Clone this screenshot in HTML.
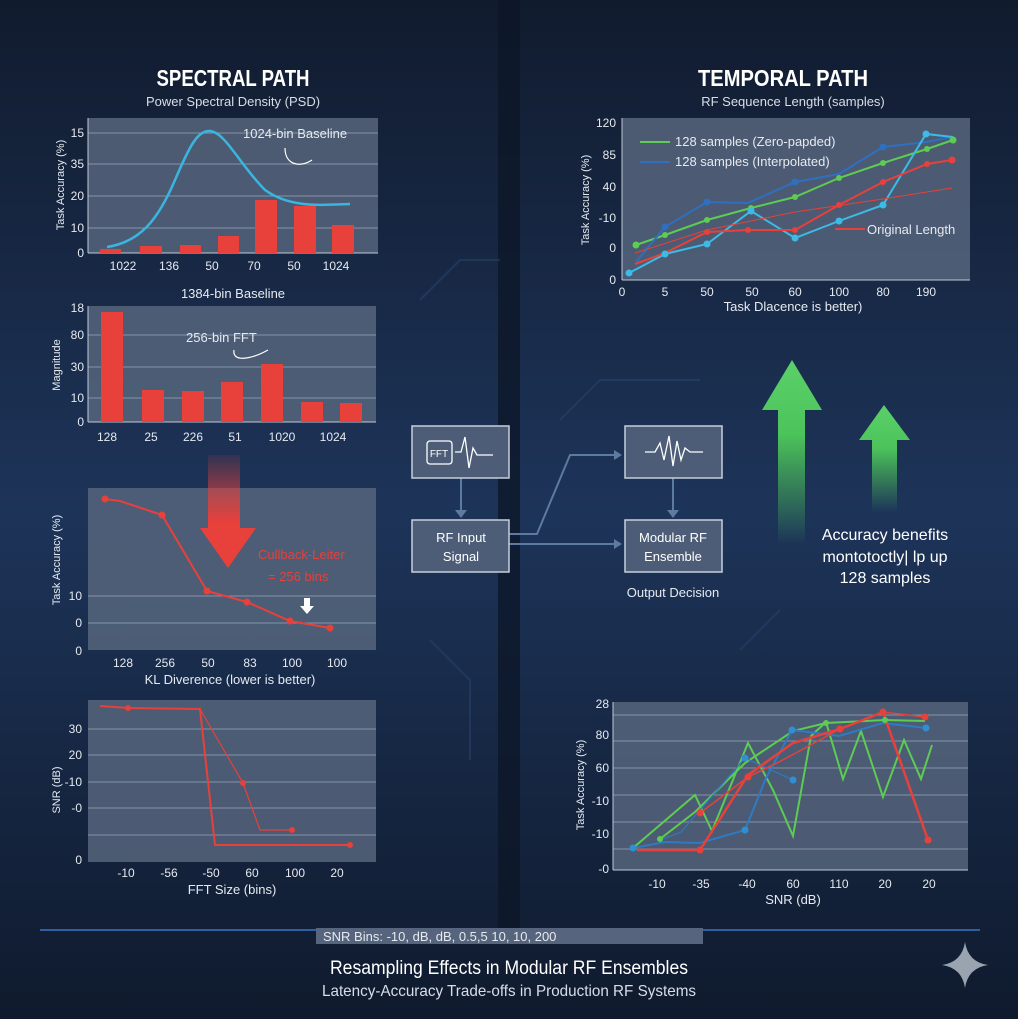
<!DOCTYPE html>
<html><head><meta charset="utf-8"><style>
html,body{margin:0;padding:0;background:#14213a;}
svg{display:block;font-family:"Liberation Sans",sans-serif;}
</style></head><body>
<svg width="1018" height="1019" viewBox="0 0 1018 1019" xmlns="http://www.w3.org/2000/svg">
<defs>
<linearGradient id="bg" x1="0" y1="0" x2="0" y2="1">
<stop offset="0" stop-color="#111b2e"/><stop offset="0.5" stop-color="#1d3459"/><stop offset="1" stop-color="#0f1a2d"/>
</linearGradient>
<linearGradient id="redA" x1="0" y1="0" x2="0" y2="1"><stop offset="0" stop-color="#e8403a" stop-opacity="0.1"/><stop offset="0.6" stop-color="#e8403a"/><stop offset="1" stop-color="#e8403a"/></linearGradient>
<linearGradient id="grA" x1="0" y1="1" x2="0" y2="0"><stop offset="0" stop-color="#4cc45a" stop-opacity="0"/><stop offset="0.6" stop-color="#4cc45a"/><stop offset="1" stop-color="#5bd06a"/></linearGradient>
</defs>
<rect width="1018" height="1019" fill="url(#bg)"/>
<rect x="498" y="0" width="22" height="930" fill="#0d1728" opacity="0.8"/>
<g stroke="#2a4670" stroke-width="2" fill="none" opacity="0.5">
<path d="M560 420 L600 380 L700 380"/><path d="M420 300 L460 260 L500 260"/><path d="M740 650 L780 610"/><path d="M430 640 L470 680 L470 760"/>
</g>
<text x="233" y="86" text-anchor="middle" fill="#fff" font-size="23" font-weight="bold" textLength="153" lengthAdjust="spacingAndGlyphs">SPECTRAL PATH</text>
<text x="783" y="86" text-anchor="middle" fill="#fff" font-size="23" font-weight="bold" textLength="170" lengthAdjust="spacingAndGlyphs">TEMPORAL PATH</text>

<!-- Chart 1 -->
<text x="233" y="106" text-anchor="middle" fill="#d8dee8" font-size="13">Power Spectral Density (PSD)</text>
<rect x="88" y="118" width="290" height="135" fill="#56657d" opacity="0.85"/>
<g stroke="#8593a8" stroke-width="1"><line x1="88" y1="133" x2="378" y2="133"/><line x1="88" y1="164" x2="378" y2="164"/><line x1="88" y1="196" x2="378" y2="196"/><line x1="88" y1="228" x2="378" y2="228"/></g>
<line x1="88" y1="118" x2="88" y2="253" stroke="#c0c8d4"/><line x1="88" y1="253" x2="378" y2="253" stroke="#c0c8d4"/>
<g fill="#e8403a"><rect x="100" y="249" width="21" height="4"/><rect x="140" y="246" width="22" height="7"/><rect x="180" y="245" width="21" height="8"/><rect x="218" y="236" width="21" height="17"/><rect x="255" y="200" width="22" height="53"/><rect x="294" y="206" width="22" height="47"/><rect x="332" y="225" width="22" height="28"/></g>
<path d="M107 247 C140 242 158 220 175 180 C190 145 198 130 210 131 C225 132 240 165 265 190 C290 208 320 205 350 204" stroke="#39b6e0" stroke-width="2.5" fill="none"/>
<text x="243" y="138" fill="#e6eaf0" font-size="13">1024-bin Baseline</text>
<path d="M285 148 C285 165 300 168 312 160" stroke="#fff" fill="none" stroke-width="1.2"/>
<g fill="#e6eaf0" font-size="12" text-anchor="end"><text x="84" y="137">15</text><text x="84" y="168">35</text><text x="84" y="200">20</text><text x="84" y="232">10</text><text x="84" y="257">0</text></g>
<text transform="translate(64,185) rotate(-90)" text-anchor="middle" fill="#e6eaf0" font-size="11">Task Accuracy (%)</text>
<g fill="#e6eaf0" font-size="12" text-anchor="middle"><text x="123" y="270">1022</text><text x="169" y="270">136</text><text x="212" y="270">50</text><text x="254" y="270">70</text><text x="294" y="270">50</text><text x="336" y="270">1024</text></g>

<!-- Chart 2 -->
<text x="233" y="298" text-anchor="middle" fill="#e6eaf0" font-size="13">1384-bin Baseline</text>
<rect x="88" y="306" width="288" height="116" fill="#56657d" opacity="0.85"/>
<g stroke="#8593a8"><line x1="88" y1="335" x2="376" y2="335"/><line x1="88" y1="367" x2="376" y2="367"/><line x1="88" y1="398" x2="376" y2="398"/></g>
<line x1="88" y1="306" x2="88" y2="422" stroke="#c0c8d4"/><line x1="88" y1="422" x2="376" y2="422" stroke="#c0c8d4"/>
<g fill="#e8403a"><rect x="101" y="312" width="22" height="110"/><rect x="142" y="390" width="22" height="32"/><rect x="182" y="391" width="22" height="31"/><rect x="221" y="382" width="22" height="40"/><rect x="261" y="364" width="22" height="58"/><rect x="301" y="402" width="22" height="20"/><rect x="340" y="403" width="22" height="19"/></g>
<text x="186" y="342" fill="#e6eaf0" font-size="13">256-bin FFT</text>
<path d="M234 350 C232 362 250 360 268 350" stroke="#fff" fill="none" stroke-width="1.2"/>
<g fill="#e6eaf0" font-size="12" text-anchor="end"><text x="84" y="312">18</text><text x="84" y="339">80</text><text x="84" y="371">30</text><text x="84" y="402">10</text><text x="84" y="426">0</text></g>
<text transform="translate(60,365) rotate(-90)" text-anchor="middle" fill="#e6eaf0" font-size="11">Magnitude</text>
<g fill="#e6eaf0" font-size="12" text-anchor="middle"><text x="107" y="441">128</text><text x="151" y="441">25</text><text x="193" y="441">226</text><text x="235" y="441">51</text><text x="282" y="441">1020</text><text x="333" y="441">1024</text></g>

<!-- Chart 3 -->
<rect x="88" y="488" width="288" height="162" fill="#56657d" opacity="0.85"/>
<g stroke="#8593a8"><line x1="88" y1="596" x2="376" y2="596"/><line x1="88" y1="623" x2="376" y2="623"/></g>
<path d="M208 455 L208 528 L200 528 L228 568 L256 528 L240 528 L240 455 Z" fill="url(#redA)"/>
<polyline points="105,499 120,501 162,515 207,591 247,602 290,621 330,628" stroke="#e8403a" stroke-width="2" fill="none"/>
<g fill="#e8403a"><circle cx="105" cy="499" r="3.5"/><circle cx="162" cy="515" r="3.5"/><circle cx="207" cy="591" r="3.5"/><circle cx="247" cy="602" r="3.5"/><circle cx="290" cy="621" r="3.5"/><circle cx="330" cy="628" r="3.5"/></g>
<text x="258" y="559" fill="#e8403a" font-size="13">Cullback-Leiter</text>
<text x="268" y="581" fill="#e8403a" font-size="13">= 256 bins</text>
<path d="M304 598 L304 606 L300 606 L307 614 L314 606 L310 606 L310 598Z" fill="#fff"/>
<g fill="#e6eaf0" font-size="12" text-anchor="end"><text x="82" y="600">10</text><text x="82" y="627">0</text><text x="82" y="655">0</text></g>
<text transform="translate(60,560) rotate(-90)" text-anchor="middle" fill="#e6eaf0" font-size="11">Task Accuracy (%)</text>
<g fill="#e6eaf0" font-size="12" text-anchor="middle"><text x="123" y="667">128</text><text x="165" y="667">256</text><text x="208" y="667">50</text><text x="250" y="667">83</text><text x="292" y="667">100</text><text x="337" y="667">100</text></g>
<text x="230" y="684" text-anchor="middle" fill="#e6eaf0" font-size="13">KL Diverence (lower is better)</text>

<!-- Chart 4 -->
<rect x="88" y="700" width="288" height="162" fill="#56657d" opacity="0.85"/>
<g stroke="#8593a8"><line x1="88" y1="729" x2="376" y2="729"/><line x1="88" y1="755" x2="376" y2="755"/><line x1="88" y1="782" x2="376" y2="782"/><line x1="88" y1="808" x2="376" y2="808"/><line x1="88" y1="835" x2="376" y2="835"/></g>
<polyline points="100,706 128,708 200,709 215,845 350,845" stroke="#e8403a" stroke-width="2" fill="none"/>
<polyline points="200,709 243,783 260,830 292,830" stroke="#e8403a" stroke-width="1.2" fill="none"/>
<g fill="#e8403a"><circle cx="128" cy="708" r="3"/><circle cx="243" cy="783" r="3"/><circle cx="292" cy="830" r="3"/><circle cx="350" cy="845" r="3"/></g>
<g fill="#e6eaf0" font-size="12" text-anchor="end"><text x="82" y="733">30</text><text x="82" y="759">20</text><text x="82" y="786">-10</text><text x="82" y="812">-0</text><text x="82" y="864">0</text></g>
<text transform="translate(60,790) rotate(-90)" text-anchor="middle" fill="#e6eaf0" font-size="11">SNR (dB)</text>
<g fill="#e6eaf0" font-size="12" text-anchor="middle"><text x="126" y="877">-10</text><text x="169" y="877">-56</text><text x="211" y="877">-50</text><text x="252" y="877">60</text><text x="295" y="877">100</text><text x="337" y="877">20</text></g>
<text x="232" y="894" text-anchor="middle" fill="#e6eaf0" font-size="13">FFT Size (bins)</text>

<!-- Chart 5 -->
<text x="793" y="106" text-anchor="middle" fill="#d8dee8" font-size="13">RF Sequence Length (samples)</text>
<rect x="622" y="118" width="348" height="162" fill="#56657d" opacity="0.85"/>
<line x1="622" y1="118" x2="622" y2="280" stroke="#c0c8d4"/><line x1="622" y1="280" x2="970" y2="280" stroke="#c0c8d4"/>
<polyline points="636,245 665,235 707,220 751,208 795,197 839,178 883,163 927,149 953,140" stroke="#5ccc52" stroke-width="2" fill="none"/>
<polyline points="636,262 665,227 707,202 748,203 795,182 839,174 883,147 927,142 951,137" stroke="#2f6fc0" stroke-width="2" fill="none"/>
<polyline points="629,273 665,254 707,244 751,211 795,238 839,221 883,205 926,134 953,137" stroke="#3bbbe6" stroke-width="2" fill="none"/>
<polyline points="635,264 665,253 707,232 748,230 795,230 839,205 883,182 927,164 952,160" stroke="#e8403a" stroke-width="2" fill="none"/>
<polyline points="635,253 707,230 795,212 883,199 952,188" stroke="#e8403a" stroke-width="1" fill="none"/>
<g fill="#5ccc52"><circle cx="636" cy="245" r="3.5"/><circle cx="665" cy="235" r="3"/><circle cx="707" cy="220" r="3"/><circle cx="751" cy="208" r="3"/><circle cx="795" cy="197" r="3"/><circle cx="839" cy="178" r="3"/><circle cx="883" cy="163" r="3"/><circle cx="927" cy="149" r="3"/><circle cx="953" cy="140" r="3.5"/></g>
<g fill="#2f6fc0"><circle cx="665" cy="227" r="3.5"/><circle cx="707" cy="202" r="3.5"/><circle cx="795" cy="182" r="3.5"/><circle cx="883" cy="147" r="3.5"/></g>
<g fill="#3bbbe6"><circle cx="629" cy="273" r="3.5"/><circle cx="665" cy="254" r="3.5"/><circle cx="707" cy="244" r="3.5"/><circle cx="751" cy="211" r="3.5"/><circle cx="795" cy="238" r="3.5"/><circle cx="839" cy="221" r="3.5"/><circle cx="883" cy="205" r="3.5"/><circle cx="926" cy="134" r="3.5"/></g>
<g fill="#e8403a"><circle cx="707" cy="232" r="3"/><circle cx="748" cy="230" r="3"/><circle cx="795" cy="230" r="3"/><circle cx="839" cy="205" r="3"/><circle cx="883" cy="182" r="3"/><circle cx="927" cy="164" r="3"/><circle cx="952" cy="160" r="3.5"/></g>
<line x1="640" y1="142" x2="670" y2="142" stroke="#5ccc52" stroke-width="2"/>
<text x="675" y="146" fill="#e6eaf0" font-size="13">128 samples (Zero-papded)</text>
<line x1="640" y1="162" x2="670" y2="162" stroke="#2f6fc0" stroke-width="2"/>
<text x="675" y="166" fill="#e6eaf0" font-size="13">128 samples (Interpolated)</text>
<line x1="835" y1="229" x2="865" y2="229" stroke="#e8403a" stroke-width="2"/>
<text x="867" y="234" fill="#e6eaf0" font-size="13">Original Length</text>
<g fill="#e6eaf0" font-size="12" text-anchor="end"><text x="616" y="127">120</text><text x="616" y="159">85</text><text x="616" y="191">40</text><text x="616" y="222">-10</text><text x="616" y="252">0</text><text x="616" y="284">0</text></g>
<text transform="translate(589,200) rotate(-90)" text-anchor="middle" fill="#e6eaf0" font-size="11">Task Accuracy (%)</text>
<g fill="#e6eaf0" font-size="12" text-anchor="middle"><text x="622" y="296">0</text><text x="665" y="296">5</text><text x="707" y="296">50</text><text x="752" y="296">50</text><text x="795" y="296">60</text><text x="839" y="296">100</text><text x="883" y="296">80</text><text x="926" y="296">190</text></g>
<text x="793" y="311" text-anchor="middle" fill="#e6eaf0" font-size="13">Task Dlacence is better)</text>

<!-- Green arrows -->
<path d="M778 545 L778 410 L762 410 L792 360 L822 410 L805 410 L805 545Z" fill="url(#grA)"/>
<path d="M872 512 L872 440 L859 440 L884 405 L910 440 L897 440 L897 512Z" fill="url(#grA)"/>
<g fill="#fff" font-size="16" text-anchor="middle"><text x="885" y="540">Accuracy benefits</text><text x="885" y="562">montotoctly| lp up</text><text x="885" y="583">128 samples</text></g>

<!-- Flow -->
<g stroke="#5d7aa0" stroke-width="2" fill="none">
<line x1="461" y1="478" x2="461" y2="515"/><line x1="673" y1="478" x2="673" y2="515"/>
<polyline points="509,534 537,534 570,455 618,455"/><line x1="509" y1="544" x2="618" y2="544"/>
</g>
<g fill="#5d7aa0"><path d="M455 510 L467 510 L461 518Z"/><path d="M667 510 L679 510 L673 518Z"/><path d="M614 450 L622 455 L614 460Z"/><path d="M614 539 L622 544 L614 549Z"/></g>
<g fill="#4d5d78" stroke="#c6cfdc" stroke-width="1.5">
<rect x="412" y="426" width="97" height="52"/><rect x="412" y="520" width="97" height="52"/><rect x="625" y="426" width="97" height="52"/><rect x="625" y="520" width="97" height="52"/>
</g>
<rect x="427" y="441" width="25" height="23" rx="3" fill="none" stroke="#fff" stroke-width="1.3"/>
<text x="439" y="457" text-anchor="middle" fill="#fff" font-size="10">FFT</text>
<polyline points="455,452 461,452 465,437 469,468 473,448 477,455 493,455" stroke="#fff" fill="none" stroke-width="1.3"/>
<polyline points="645,452 655,452 660,443 664,460 669,436 673,466 677,441 681,460 685,448 690,452 703,452" stroke="#fff" fill="none" stroke-width="1.3"/>
<g fill="#fff" font-size="13" text-anchor="middle"><text x="461" y="542">RF Input</text><text x="461" y="561">Signal</text><text x="673" y="542">Modular RF</text><text x="673" y="561">Ensemble</text></g>
<text x="673" y="597" text-anchor="middle" fill="#e6eaf0" font-size="13">Output Decision</text>

<!-- Chart 6 -->
<rect x="613" y="702" width="355" height="168" fill="#56657d" opacity="0.85"/>
<g stroke="#8593a8"><line x1="613" y1="715" x2="968" y2="715"/><line x1="613" y1="741" x2="968" y2="741"/><line x1="613" y1="768" x2="968" y2="768"/><line x1="613" y1="795" x2="968" y2="795"/><line x1="613" y1="822" x2="968" y2="822"/><line x1="613" y1="849" x2="968" y2="849"/></g>
<line x1="613" y1="702" x2="613" y2="870" stroke="#c0c8d4"/><line x1="613" y1="870" x2="968" y2="870" stroke="#c0c8d4"/>
<polyline points="633,848 695,795 712,831 748,743 773,790 793,836 811,736 826,722 843,779 861,731 883,797 904,740 921,779 932,745" stroke="#5ccc52" stroke-width="2" fill="none"/>
<polyline points="660,839 695,812 745,763 793,731 826,723 885,720 925,721" stroke="#5ccc52" stroke-width="2" fill="none"/>
<polyline points="660,840 681,832 745,758 793,780" stroke="#2f7ac0" stroke-width="1.2" fill="none"/>
<polyline points="633,848 665,842 700,843 745,830 766,778 792,730 839,736 883,723 926,728" stroke="#2f7ac0" stroke-width="2" fill="none"/>
<polyline points="637,850 700,850 748,775 793,743 840,729 883,712 928,840" stroke="#e8403a" stroke-width="2.5" fill="none"/>
<polyline points="700,813 748,777 779,762 840,729 883,712 925,717" stroke="#e8403a" stroke-width="1.5" fill="none"/>
<g fill="#e8403a"><circle cx="700" cy="850" r="3.5"/><circle cx="700" cy="813" r="3.5"/><circle cx="748" cy="777" r="3.5"/><circle cx="840" cy="729" r="3.5"/><circle cx="883" cy="712" r="3.5"/><circle cx="928" cy="840" r="3.5"/><circle cx="925" cy="717" r="3.5"/></g>
<g fill="#2f8fd0"><circle cx="633" cy="848" r="3.5"/><circle cx="745" cy="830" r="3.5"/><circle cx="792" cy="730" r="3.5"/><circle cx="793" cy="780" r="3.5"/><circle cx="926" cy="728" r="3.5"/><circle cx="745" cy="758" r="3.5"/></g>
<g fill="#5ccc52"><circle cx="660" cy="839" r="3"/><circle cx="826" cy="723" r="3"/><circle cx="885" cy="720" r="3"/></g>
<g fill="#e6eaf0" font-size="12" text-anchor="end"><text x="609" y="708">28</text><text x="609" y="739">80</text><text x="609" y="772">60</text><text x="609" y="805">-10</text><text x="609" y="838">-10</text><text x="609" y="873">-0</text></g>
<text transform="translate(584,785) rotate(-90)" text-anchor="middle" fill="#e6eaf0" font-size="11">Task Accuracy (%)</text>
<g fill="#e6eaf0" font-size="12" text-anchor="middle"><text x="657" y="888">-10</text><text x="701" y="888">-35</text><text x="747" y="888">-40</text><text x="793" y="888">60</text><text x="839" y="888">110</text><text x="885" y="888">20</text><text x="929" y="888">20</text></g>
<text x="793" y="904" text-anchor="middle" fill="#e6eaf0" font-size="13">SNR (dB)</text>

<!-- Footer -->
<line x1="40" y1="930" x2="980" y2="930" stroke="#2f5fa0" stroke-width="2"/>
<rect x="316" y="928" width="387" height="16" fill="#56657d"/>
<text x="323" y="941" fill="#e6eaf0" font-size="13">SNR Bins: -10, dB, dB, 0.5,5 10, 10, 200</text>
<text x="509" y="974" text-anchor="middle" fill="#fff" font-size="19" textLength="358" lengthAdjust="spacingAndGlyphs">Resampling Effects in Modular RF Ensembles</text>
<text x="509" y="996" text-anchor="middle" fill="#d8dee8" font-size="16" textLength="374" lengthAdjust="spacingAndGlyphs">Latency-Accuracy Trade-offs in Production RF Systems</text>
<path d="M965 942 Q968 962 988 965 Q968 968 965 988 Q962 968 942 965 Q962 962 965 942Z" fill="#9aa3b0"/>
</svg>
</body></html>
